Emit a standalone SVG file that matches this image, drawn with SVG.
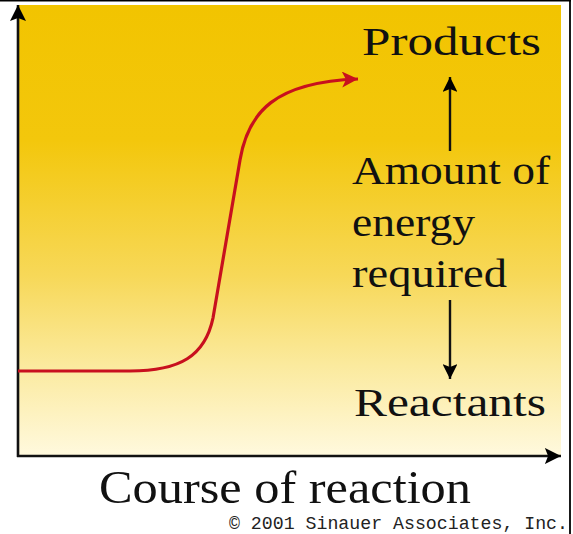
<svg xmlns="http://www.w3.org/2000/svg" width="573" height="534" viewBox="0 0 573 534">
<defs>
<linearGradient id="bg" x1="0" y1="0" x2="0" y2="1">
<stop offset="0" stop-color="#F2C400"/>
<stop offset="0.3" stop-color="#F3C70C"/>
<stop offset="0.6" stop-color="#F7D858"/>
<stop offset="0.8" stop-color="#FBEA9E"/>
<stop offset="1" stop-color="#FFF9DE"/>
</linearGradient>
<marker id="ah" viewBox="0 0 10 10" refX="10" refY="5" markerWidth="9" markerHeight="6.2" orient="auto" markerUnits="strokeWidth">
<path d="M0,0 L10,5 L0,10 L2,5 Z" fill="#000"/>
</marker>
<marker id="ahr" viewBox="0 0 10 10" refX="10" refY="5" markerWidth="7.5" markerHeight="5" orient="auto" markerUnits="strokeWidth">
<path d="M0,0 L10,5 L0,10 L2.5,5 Z" fill="#C8101E"/>
</marker>
</defs>
<style>
.lbl{font-family:"Liberation Serif","Times New Roman",serif;fill:#111;}
.cp{font-family:"Liberation Mono","Courier New",monospace;fill:#222;}
.ax{stroke:#111;stroke-width:2.6;fill:none;}
.ar{stroke:#111;stroke-width:2.4;fill:none;}
</style>
<rect x="0" y="0" width="573" height="534" fill="#fff"/>
<rect x="18" y="5" width="543" height="451" fill="url(#bg)"/>
<g id="frame">
<line x1="0" y1="0.8" x2="571" y2="0.8" stroke="#000" stroke-width="1.6"/>
<line x1="570" y1="0" x2="570" y2="534" stroke="#000" stroke-width="1.8"/>
</g>
<g id="connectors">
<line id="y-axis" class="ax" x1="18" y1="457" x2="18" y2="5" marker-end="url(#ah)"/>
<line id="x-axis" class="ax" x1="17" y1="456" x2="561" y2="456" marker-end="url(#ah)"/>
<path id="curve" d="M18,371 H130 C180,371 205,356 213,318 L240,160 C248,112 275,82 358,79" fill="none" stroke="#C8101E" stroke-width="3.2" marker-end="url(#ahr)"/>
<line id="up-arrow" class="ar" x1="450" y1="151" x2="450" y2="77" marker-end="url(#ah)"/>
<line id="down-arrow" class="ar" x1="450" y1="300" x2="450" y2="379" marker-end="url(#ah)"/>
</g>
<g id="products"><text class="lbl" x="362" y="55" font-size="41" textLength="179" lengthAdjust="spacingAndGlyphs">Products</text></g>
<g id="energy-label">
<text class="lbl" x="352" y="184" font-size="41" textLength="198" lengthAdjust="spacingAndGlyphs">Amount of</text>
<text class="lbl" x="352" y="236" font-size="41" textLength="123" lengthAdjust="spacingAndGlyphs">energy</text>
<text class="lbl" x="352" y="287" font-size="41" textLength="155" lengthAdjust="spacingAndGlyphs">required</text>
</g>
<g id="reactants"><text class="lbl" x="354" y="416" font-size="41" textLength="192" lengthAdjust="spacingAndGlyphs">Reactants</text></g>
<g id="x-label"><text class="lbl" x="99" y="503" font-size="46" textLength="372" lengthAdjust="spacingAndGlyphs">Course of reaction</text></g>
<g id="copyright"><text class="cp" x="229" y="529" font-size="18" textLength="339" lengthAdjust="spacingAndGlyphs">© 2001 Sinauer Associates, Inc.</text></g>
</svg>
